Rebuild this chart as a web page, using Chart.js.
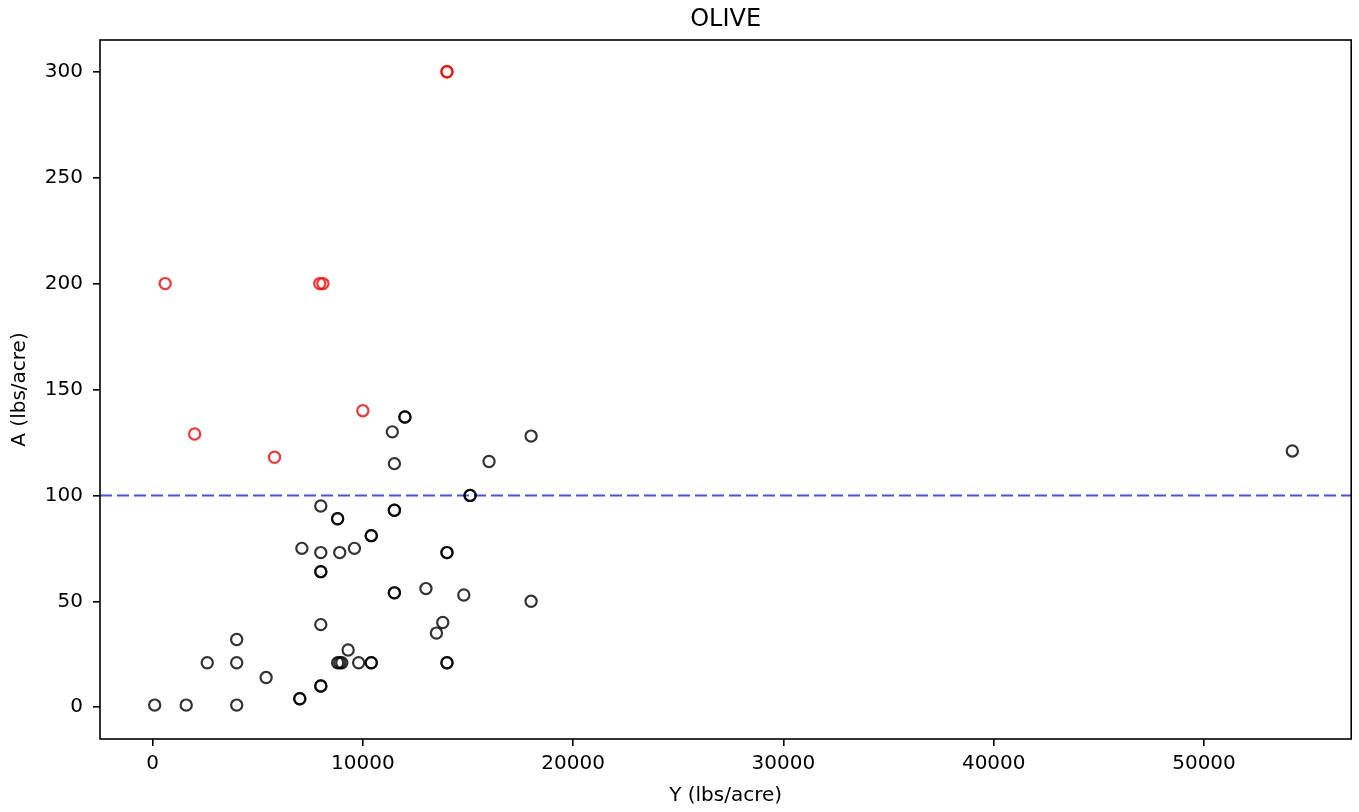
<!DOCTYPE html>
<html>
<head>
<meta charset="utf-8">
<script src="https://cdn.jsdelivr.net/npm/chart.js@4"></script>
<style>
  html, body { margin: 0; padding: 0; background: #fff; overflow: hidden; }
  #olive { display: block; }
</style>
</head>
<body>
<canvas id="olive" width="1359" height="812"></canvas>
<script>
// ── Data: yield (Y) vs applied amount (A), lbs/acre ──
const blackY = [12000, 12000, 11400, 18000, 11500, 16000, 15100, 15100, 8000, 11500,
  11500, 8800, 8800, 10400, 10400, 7100, 8000, 8900, 9600, 14000,
  14000, 8000, 8000, 11500, 11500, 13000, 14800, 18000, 8000, 13800,
  13500, 4000, 2600, 4000, 9300, 8800, 8900, 9000, 9800, 10400,
  10400, 14000, 14000, 5400, 8000, 8000, 7000, 7000, 100, 1600,
  4000, 54200];
const blackA = [137, 137, 130, 128, 115, 116, 100, 100, 95, 93,
  93, 89, 89, 81, 81, 75, 73, 73, 75, 73,
  73, 64, 64, 54, 54, 56, 53, 50, 39, 40,
  35, 32, 21, 21, 27, 21, 21, 21, 21, 21,
  21, 21, 21, 14, 10, 10, 4, 4, 1, 1,
  1, 121];

const redY = [2000, 5800, 10000, 14000, 14000, 600, 7950, 8100];
const redA = [129, 118, 140, 300, 300, 200, 200, 200];

const xTicks = [0, 10000, 20000, 30000, 40000, 50000];
const yTicks = [0, 50, 100, 150, 200, 250, 300];
const THRESHOLD = 100;

const FONT = 'DejaVu Sans';

function toPoints(xs, ys) {
  return xs.map((x, i) => ({ x: x, y: ys[i] }));
}

// title, frame and threshold line
const olivePlugin = {
  id: 'olive',
  beforeDatasetsDraw(chart) {
    const { ctx, chartArea: a, scales } = chart;
    const y = scales.y.getPixelForValue(THRESHOLD);
    ctx.save();
    ctx.strokeStyle = 'rgba(0,0,255,0.7)';
    ctx.lineWidth = 2;
    ctx.setLineDash([12, 5]);
    ctx.beginPath();
    ctx.moveTo(a.left, y);
    ctx.lineTo(a.right, y);
    ctx.stroke();
    ctx.restore();
  },
  afterDraw(chart) {
    const { ctx, chartArea: a } = chart;
    ctx.save();
    ctx.strokeStyle = '#000';
    ctx.lineWidth = 1.6;
    ctx.strokeRect(a.left, a.top, a.right - a.left, a.bottom - a.top);
    ctx.fillStyle = '#000';
    ctx.font = '24px "' + FONT + '"';
    ctx.textAlign = 'center';
    ctx.textBaseline = 'alphabetic';
    ctx.fillText('OLIVE', (a.left + a.right) / 2, 26);
    ctx.restore();
  }
};

const tickStyle = { font: { family: FONT, size: 20 }, color: '#000' };

const circleStyle = {
  pointStyle: 'circle',
  pointRadius: 5.6,
  pointBorderWidth: 2.2,
  backgroundColor: 'rgba(0,0,0,0)'
};

new Chart(document.getElementById('olive'), {
  type: 'scatter',
  data: {
    datasets: [
      { ...circleStyle, data: toPoints(blackY, blackA), borderColor: 'rgba(0,0,0,0.8)' },
      { ...circleStyle, data: toPoints(redY, redA), borderColor: 'rgba(255,0,0,0.8)' }
    ]
  },
  options: {
    responsive: false,
    animation: false,
    devicePixelRatio: 1,
    layout: { padding: { left: 0, right: 3, top: 40, bottom: 0 } },
    plugins: {
      legend: { display: false },
      tooltip: { enabled: false },
      title: { display: false }
    },
    scales: {
      x: {
        type: 'linear',
        min: -2500,
        max: 57000,
        afterFit: s => { s.height = 73; s.paddingLeft = 0; s.paddingRight = 0; },
        afterBuildTicks: s => { s.ticks = xTicks.map(v => ({ value: v })); },
        border: { display: false },
        grid: { drawOnChartArea: false, drawTicks: true, tickLength: 7, color: '#000', lineWidth: 1.6 },
        ticks: { ...tickStyle, padding: 6, maxRotation: 0, callback: v => String(v) },
        title: { display: true, text: 'Y (lbs/acre)', font: { family: FONT, size: 20 }, color: '#000', padding: { top: 4, bottom: 4 } }
      },
      y: {
        type: 'linear',
        min: -15,
        max: 315,
        afterFit: s => { s.width = 100; },
        afterBuildTicks: s => { s.ticks = yTicks.map(v => ({ value: v })); },
        border: { display: false },
        grid: { drawOnChartArea: false, drawTicks: true, tickLength: 7, color: '#000', lineWidth: 1.6 },
        ticks: { ...tickStyle, padding: 10, callback: v => String(v) },
        title: { display: true, text: 'A (lbs/acre)', font: { family: FONT, size: 20 }, color: '#000', padding: { top: 8, bottom: 4 } }
      }
    }
  },
  plugins: [olivePlugin]
});
</script>
</body>
</html>
